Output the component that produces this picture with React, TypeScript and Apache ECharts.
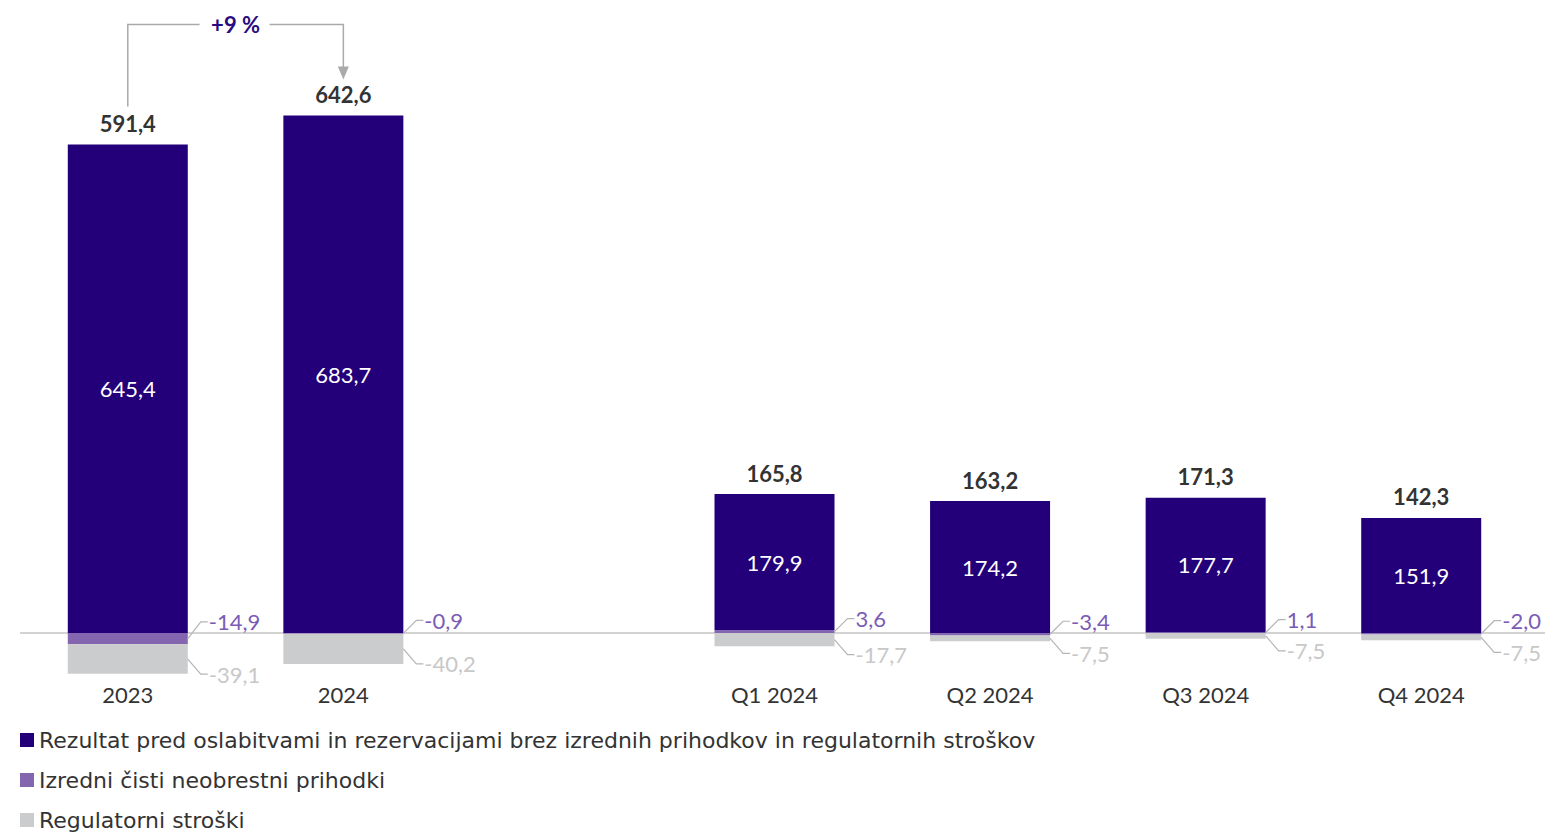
import React, { useEffect, useRef } from "react";
import * as echarts from "echarts";

const categories = ["2023", "2024", "", "Q1 2024", "Q2 2024", "Q3 2024", "Q4 2024"];
const mainValues = [645.4, 683.7, null, 179.9, 174.2, 177.7, 151.9];
const extraValues = [-14.9, -0.9, null, 3.6, -3.4, 1.1, -2.0];
const regValues = [-39.1, -40.2, null, -17.7, -7.5, -7.5, -7.5];
const totalValues = [591.4, 642.6, null, 165.8, 163.2, 171.3, 142.3];
const changeLabel = "+9 %";
const seriesNames = [
  "Rezultat pred oslabitvami in rezervacijami brez izrednih prihodkov in regulatornih stroškov",
  "Izredni čisti neobrestni prihodki",
  "Regulatorni stroški",
];

const FONT = "Lato, 'Noto Sans', sans-serif";
const LEGEND_FONT = "'DejaVu Sans', 'Open Sans', sans-serif";
const C_MAIN = "#23007a";
const C_EXTRA = "#8466b0";
const C_REG = "#cbcccd";
const C_TEXT = "#333333";
const C_LINE = "#b5b5b5";

const fmt = (v: number) => v.toFixed(1).replace(".", ",");
const validIdx = categories.map((_, i) => i).filter((i) => mainValues[i] !== null);

export default function App() {
  const ref = useRef<HTMLDivElement>(null);
  useEffect(() => {
    if (!ref.current) return;
    const chart = echarts.init(ref.current, undefined, { renderer: "svg" });
    const halfBar = 60;

    const option: any = {
      animation: false,
      textStyle: { fontFamily: FONT },
      grid: { left: 20, right: 16, top: 88, bottom: 154.6, containLabel: false },
      legend: {
        orient: "vertical",
        left: 20,
        top: 729,
        padding: 0,
        itemWidth: 14,
        itemHeight: 14,
        itemGap: 18,
        icon: "rect",
        data: seriesNames,
        textStyle: { fontSize: 22, color: C_TEXT, fontFamily: LEGEND_FONT },
        selectedMode: false,
      },
      xAxis: {
        type: "category",
        data: categories,
        axisLine: { show: false },
        axisTick: { show: false },
        axisLabel: { fontSize: 22, color: C_TEXT, margin: 2, fontFamily: FONT },
      },
      yAxis: { type: "value", min: -64, max: 720, show: false, splitLine: { show: false } },
      series: [
        {
          type: "custom",
          name: "baseline",
          z: 1,
          silent: true,
          data: [[0, 0]],
          renderItem: (params: any, api: any) => {
            const cs = params.coordSys;
            const y = api.coord([0, 0])[1];
            return {
              type: "line",
              shape: { x1: cs.x, y1: y, x2: cs.x + cs.width + 16, y2: y },
              style: { stroke: "#c4c4c4", lineWidth: 1.5 },
            };
          },
        },
        {
          type: "bar",
          name: seriesNames[1],
          stack: "s",
          barWidth: 120,
          z: 2,
          itemStyle: { color: C_EXTRA },
          data: extraValues.map((v) => (v === null ? "-" : v)),
        },
        {
          type: "bar",
          name: seriesNames[0],
          stack: "s",
          barWidth: 120,
          z: 2,
          itemStyle: { color: C_MAIN },
          label: {
            show: true,
            position: "inside",
            color: "#ffffff",
            fontSize: 22,
            fontFamily: FONT,
            formatter: (p: any) => fmt(p.value),
          },
          data: mainValues.map((v) => (v === null ? "-" : v)),
        },
        {
          type: "bar",
          name: seriesNames[2],
          stack: "s",
          barWidth: 120,
          z: 2,
          itemStyle: { color: C_REG },
          data: regValues.map((v) => (v === null ? "-" : v)),
        },
        {
          type: "custom",
          name: "sideLabels",
          z: 5,
          silent: true,
          data: validIdx.map((i) => [i, 0]),
          renderItem: (params: any, api: any) => {
            const i = validIdx[params.dataIndex];
            const ex = extraValues[i] as number;
            const rg = regValues[i] as number;
            const cx = api.coord([i, 0])[0];
            const base = api.coord([i, 0])[1];
            const xr = cx + halfBar;
            const exMid = api.coord([i, ex / 2])[1];
            const negStart = Math.min(ex, 0);
            const rgMid = api.coord([i, negStart + rg / 2])[1];
            const pY = Math.min(exMid - 13, base - 11);
            const gY = rgMid + 15;
            const mk = (sy: number, ly: number, txt: string, col: string) => [
              {
                type: "polyline",
                shape: { points: [[xr, sy], [xr + 13, ly], [xr + 20, ly]] },
                style: { stroke: C_LINE, lineWidth: 1.2, fill: "none" },
              },
              {
                type: "text",
                x: xr + 21,
                y: ly,
                style: {
                  text: txt,
                  fill: col,
                  fontSize: 22,
                  fontFamily: FONT,
                  align: "left",
                  verticalAlign: "middle",
                },
              },
            ];
            return {
              type: "group",
              children: [
                ...mk(exMid, pY, fmt(ex), "#7a5cb6"),
                ...mk(rgMid, gY, fmt(rg), "#c8c8c8"),
              ],
            };
          },
        },
        {
          type: "custom",
          name: "totals",
          z: 5,
          silent: true,
          data: validIdx.map((i) => [i, 0]),
          renderItem: (params: any, api: any) => {
            const i = validIdx[params.dataIndex];
            const top = (mainValues[i] as number) + Math.max(extraValues[i] as number, 0);
            const p = api.coord([i, top]);
            return {
              type: "text",
              x: p[0],
              y: p[1] - 21,
              style: {
                text: fmt(totalValues[i] as number),
                fill: C_TEXT,
                fontSize: 22,
                fontWeight: "bold",
                fontFamily: FONT,
                align: "center",
                verticalAlign: "middle",
              },
            };
          },
        },
        {
          type: "custom",
          name: "change",
          z: 5,
          silent: true,
          data: [[0, 0]],
          renderItem: (params: any, api: any) => {
            const t0 = (mainValues[0] as number) + Math.max(extraValues[0] as number, 0);
            const t1 = (mainValues[1] as number) + Math.max(extraValues[1] as number, 0);
            const p0 = api.coord([0, t0]);
            const p1 = api.coord([1, t1]);
            const y0 = p0[1] - 38;
            const yTip = p1[1] - 36;
            const yTop = Math.min(y0, yTip) - 55;
            const xm = (p0[0] + p1[0]) / 2;
            const ls = { stroke: "#aaaaaa", lineWidth: 1.5, fill: "none" };
            return {
              type: "group",
              children: [
                { type: "polyline", shape: { points: [[p0[0], y0], [p0[0], yTop], [xm - 36, yTop]] }, style: ls },
                { type: "polyline", shape: { points: [[xm + 34, yTop], [p1[0], yTop], [p1[0], yTip - 12]] }, style: ls },
                {
                  type: "polygon",
                  shape: { points: [[p1[0] - 5.5, yTip - 13], [p1[0] + 5.5, yTip - 13], [p1[0], yTip]] },
                  style: { fill: "#aaaaaa" },
                },
                {
                  type: "text",
                  x: xm,
                  y: yTop,
                  style: {
                    text: changeLabel,
                    fill: "#2a0a80",
                    fontSize: 22,
                    fontWeight: "bold",
                    fontFamily: FONT,
                    align: "center",
                    verticalAlign: "middle",
                  },
                },
              ],
            };
          },
        },
      ],
    };
    chart.setOption(option);
    return () => chart.dispose();
  }, []);
  return (
    <div
      ref={ref}
      style={{ position: "fixed", left: 0, top: 0, width: 1545, height: 836, background: "#ffffff" }}
    />
  );
}
